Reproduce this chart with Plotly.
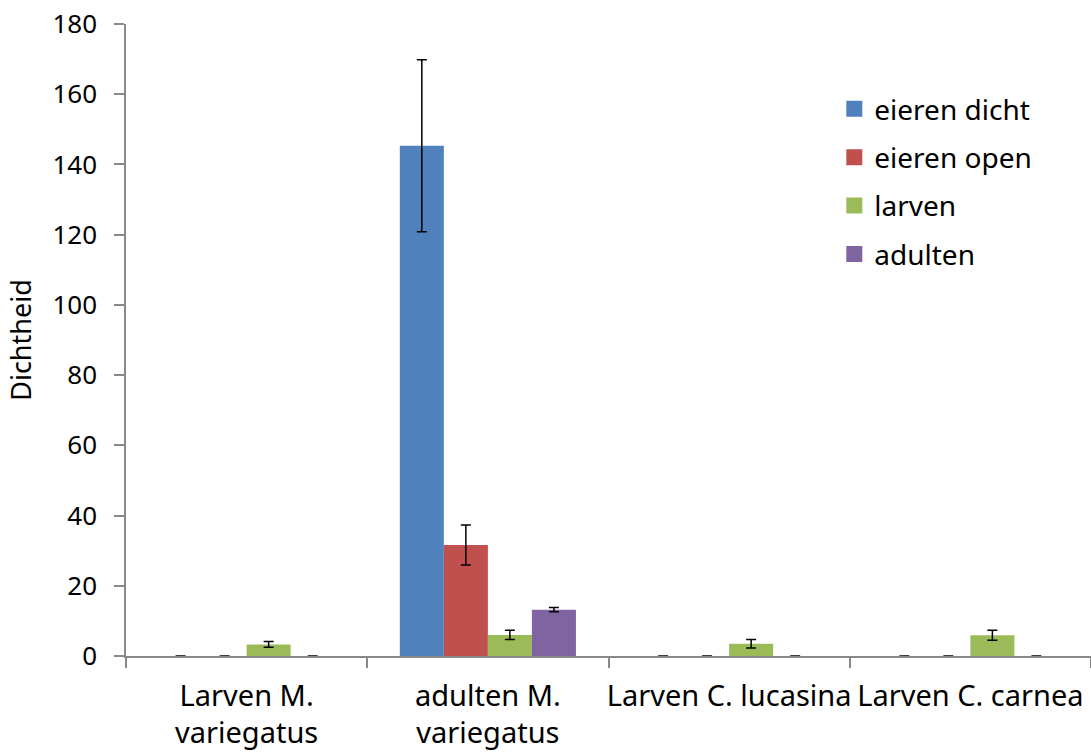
import plotly.graph_objects as go

categories = ["Larven M.<br>variegatus", "adulten M.<br>variegatus", "Larven C. lucasina", "Larven C. carnea"]
series_names = ["eieren dicht", "eieren open", "larven", "adulten"]
eieren_dicht = [0, 145.3, 0, 0]
eieren_dicht_err = [0, 24.5, 0, 0]
eieren_open = [0, 31.6, 0, 0]
eieren_open_err = [0, 5.7, 0, 0]
larven = [3.3, 6.0, 3.5, 5.9]
larven_err = [0.8, 1.3, 1.2, 1.4]
adulten = [0, 13.2, 0, 0]
adulten_err = [0, 0.6, 0, 0]
colors = ["#4F81BD", "#C0504D", "#9BBB59", "#8064A2"]

values = [eieren_dicht, eieren_open, larven, adulten]
errors = [eieren_dicht_err, eieren_open_err, larven_err, adulten_err]

fig = go.Figure()
for name, v, e, c in zip(series_names, values, errors, colors):
    fig.add_trace(go.Bar(
        x=categories, y=v, name=name, marker=dict(color=c, line=dict(width=0)),
        showlegend=False,
        error_y=dict(type="data", array=e, visible=True, color="black", thickness=1.5, width=5),
    ))
# legend entries with larger square swatches
for name, c in zip(series_names, colors):
    fig.add_trace(go.Scatter(
        x=[categories[0]], y=[None], mode="markers", name=name, legendgroup=name,
        marker=dict(symbol="square", size=18, color=c), showlegend=True, hoverinfo="skip",
    ))

fig.update_layout(
    width=1091, height=752,
    margin=dict(l=126, r=0, t=24, b=96),
    plot_bgcolor="white", paper_bgcolor="white",
    barmode="group", bargap=0.27, bargroupgap=0,
    font=dict(family="Noto Sans", color="black"),
    legend=dict(x=0.734, y=0.905, xanchor="left", yanchor="top",
                font=dict(family="Noto Sans", size=28), tracegroupgap=9,
                itemwidth=30, itemsizing="trace", bgcolor="rgba(0,0,0,0)"),
    showlegend=True,
)
fig.update_xaxes(
    showline=True, linecolor="#898989", linewidth=1.5,
    ticks="outside", tickson="boundaries", ticklen=10, tickcolor="#898989", tickwidth=1.5,
    tickfont=dict(family="Noto Sans", size=29), tickangle=0, automargin=False,
    ticklabelstandoff=13,
    showgrid=False,
)
fig.update_yaxes(
    range=[0, 180], dtick=20, showline=True, linecolor="#898989", linewidth=1.5,
    ticks="outside", ticklen=10, tickcolor="#898989", tickwidth=1.5,
    tickfont=dict(family="Noto Sans", size=26), ticklabelstandoff=12, automargin=False,
    showgrid=False, zeroline=False,
    title=dict(text="Dichtheid", font=dict(family="Noto Sans", size=27), standoff=13),
)

fig.write_html("out.html")
